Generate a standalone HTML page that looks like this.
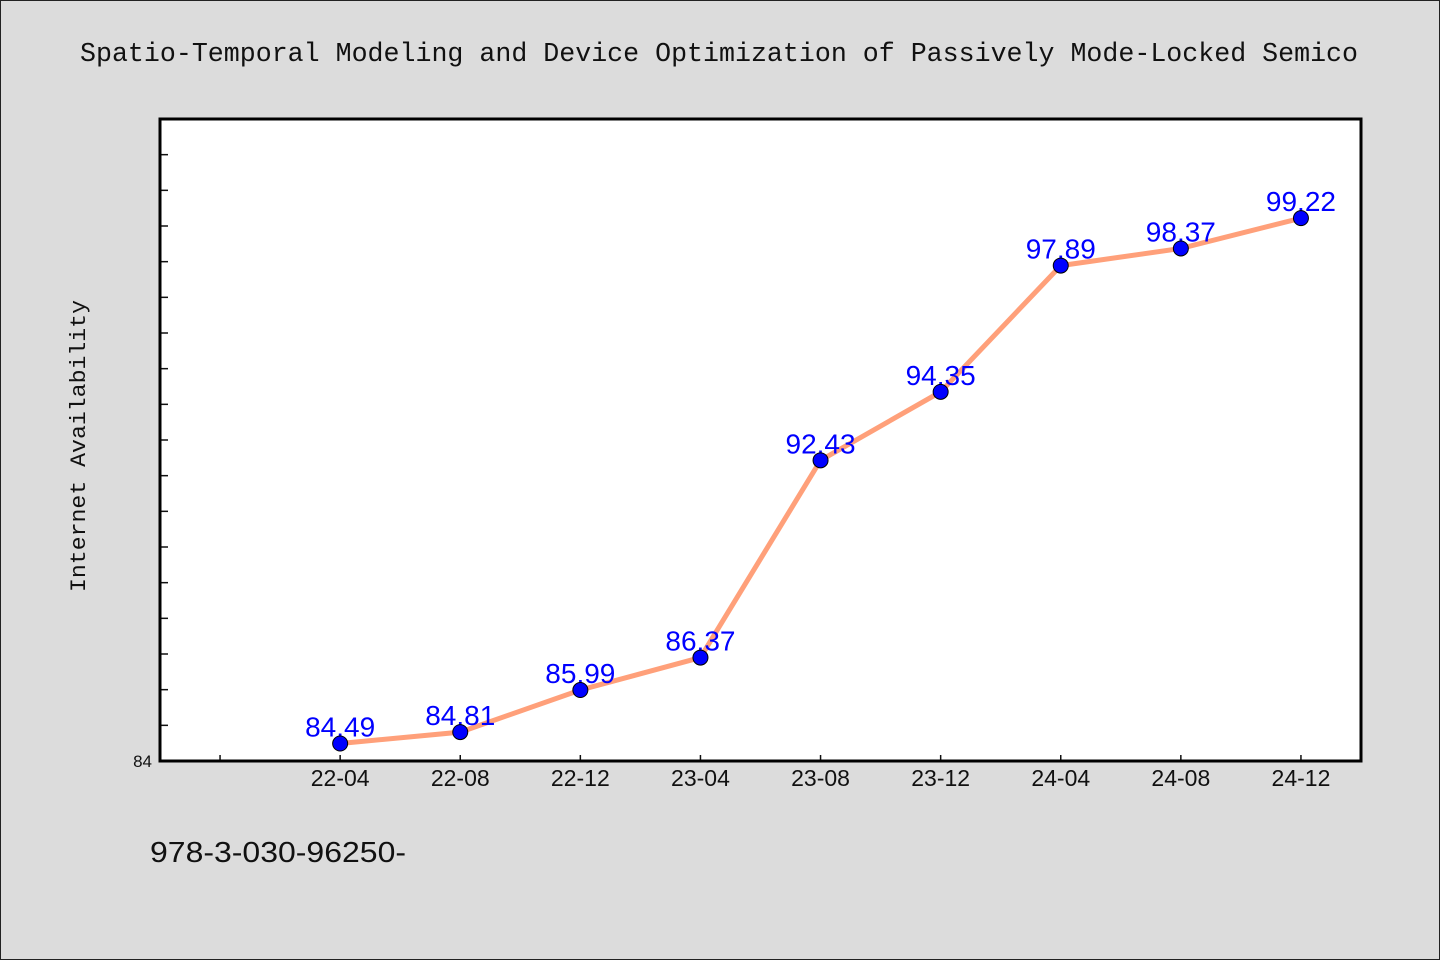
<!DOCTYPE html>
<html><head><meta charset="utf-8"><style>
html,body{margin:0;padding:0;background:#dcdcdc;}
svg{display:block;}
text{font-family:"WenQuanYi Zen Hei","Liberation Sans",sans-serif;}
.mono{font-family:"WenQuanYi Zen Hei Mono","WenQuanYi Zen Hei","Liberation Mono",monospace;}
</style></head><body>
<svg id="chart" width="1440" height="960">
<rect x="0.5" y="0.5" width="1439" height="959" fill="#dcdcdc" stroke="#222"/>
<text class="mono" x="80" y="61" textLength="1278" lengthAdjust="spacingAndGlyphs" font-size="27" fill="#111">Spatio-Temporal Modeling and Device Optimization of Passively Mode-Locked Semico</text>
<rect x="160" y="119" width="1201" height="642" fill="#fff"/>
<text class="mono" transform="translate(85,592) rotate(-90)" textLength="292" lengthAdjust="spacingAndGlyphs" font-size="22" fill="#111">Internet Availability</text>
<text x="150" y="862" textLength="256" lengthAdjust="spacingAndGlyphs" font-size="29" fill="#111">978-3-030-96250-</text>
<g id="axes"></g>
<g id="marks"></g>
</svg>
<script>
const categories=["22-04","22-08","22-12","23-04","23-08","23-12","24-04","24-08","24-12"];
const values=[84.49,84.81,85.99,86.9,92.43,94.35,97.89,98.37,99.22];
const valueLabels=["84.49","84.81","85.99","86.37","92.43","94.35","97.89","98.37","99.22"];
const yMin=84,yMax=102;
const L=160,R=1361,T=119,B=761;
const xs=i=>L+(i+1.5)*(R-L)/10;
const ys=v=>B-(v-yMin)*(B-T)/(yMax-yMin);
const NS="http://www.w3.org/2000/svg";
const axes=document.getElementById('axes'),marks=document.getElementById('marks');
function mk(tag,attrs,parent){const e=document.createElementNS(NS,tag);for(const k in attrs)e.setAttribute(k,attrs[k]);parent.appendChild(e);return e;}
for(let v=yMin+1;v<yMax;v++){
  const t=mk('line',{x1:L,x2:L+8,y1:ys(v),y2:ys(v),stroke:'#111','stroke-width':1.5},axes);
  
  
}
const y0=mk('text',{x:L-8,y:B+6,'text-anchor':'end','font-size':17,fill:'#111'},axes);
y0.textContent=String(yMin);


for(let i=-1;i<categories.length;i++){
  const t=mk('line',{x1:xs(i),x2:xs(i),y1:B,y2:B-6,stroke:'#111','stroke-width':1.5},axes);
  
  
  if(i>=0){
    const l=mk('text',{x:xs(i),y:B+25,'text-anchor':'middle','font-size':23,fill:'#111'},axes);
    l.textContent=categories[i];
    
    
  }
}
const frame=mk('rect',{x:L,y:T,width:R-L,height:B-T,fill:'none',stroke:'#000','stroke-width':3},axes);


const line=mk('polyline',{points:values.map((v,i)=>xs(i)+','+ys(v)).join(' '),fill:'none',stroke:'#ffa07a','stroke-width':5},marks);


values.forEach((v,i)=>{
  const t=mk('text',{x:xs(i),y:ys(v)-7,'text-anchor':'middle','font-size':28,fill:'#0000ff'},marks);
  t.textContent=valueLabels[i];
  
  
  const c=mk('circle',{cx:xs(i),cy:ys(v),r:7.5,fill:'#0000ff',stroke:'#000','stroke-width':1},marks);
  
  
});
</script>
</body></html>
